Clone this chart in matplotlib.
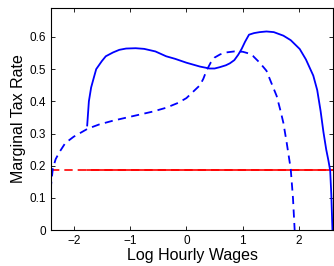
import matplotlib
matplotlib.use("Agg")
import matplotlib.pyplot as plt

plt.rcParams['font.family'] = ['Liberation Sans', 'DejaVu Sans']

solid_x = [-1.76,-1.73,-1.69,-1.64,-1.6,-1.5,-1.43,-1.3,-1.19,-1.07,-0.9,-0.75,-0.55,-0.36,-0.2,0,0.24,0.41,0.5,0.59,0.7,0.77,0.85,0.92,0.98,1.04,1.11,1.2,1.3,1.42,1.55,1.72,1.85,2.01,2.12,2.25,2.32,2.38,2.43,2.48,2.52,2.55,2.57,2.59]
solid_y = [0.325,0.40,0.443,0.475,0.5,0.525,0.54,0.552,0.56,0.564,0.565,0.563,0.555,0.54,0.532,0.52,0.508,0.502,0.502,0.506,0.512,0.518,0.528,0.545,0.563,0.585,0.607,0.612,0.615,0.617,0.615,0.604,0.59,0.5625,0.53,0.48,0.435,0.37,0.305,0.25,0.215,0.185,0.11,0.0]

dash_x = [-2.41,-2.37,-2.32,-2.26,-2.15,-2.0,-1.9,-1.75,-1.55,-1.3,-0.95,-0.6,-0.36,-0.15,0,0.12,0.24,0.3,0.355,0.43,0.5,0.6,0.71,0.85,1.0,1.1,1.18,1.3,1.42,1.5,1.6,1.67,1.72,1.78,1.85,1.89,1.92]
dash_y = [0.125,0.19,0.22,0.24,0.27,0.29,0.30,0.315,0.328,0.34,0.354,0.368,0.38,0.395,0.41,0.43,0.45,0.47,0.495,0.52,0.536,0.546,0.552,0.555,0.554,0.549,0.541,0.52,0.495,0.46,0.417,0.37,0.333,0.27,0.19,0.1,0.0]

flat_rate = 0.1875
flat_dash_x = [-2.4, 2.6]
flat_solid_x = [-1.76, 2.6]

xticks = [-2, -1, 0, 1, 2]
yticks = [0, 0.1, 0.2, 0.3, 0.4, 0.5, 0.6]

fig = plt.figure(figsize=(3.34, 2.66), dpi=100)
ax = fig.add_axes([0.153, 0.135, 0.844, 0.835])

ax.plot(flat_dash_x, [flat_rate]*2, color='red', lw=1.2, ls=(0, (5, 3)))
ax.plot(flat_solid_x, [flat_rate]*2, color='red', lw=1.2)
ax.plot(dash_x, dash_y, color='blue', lw=1.3, ls=(0, (4.5, 3)))
ax.plot(solid_x, solid_y, color='blue', lw=1.3)

ax.set_xlim(-2.4, 2.6)
ax.set_ylim(0, 0.69)
ax.set_xticks(xticks)
ax.set_yticks(yticks)
ax.set_yticklabels(['0', '0.1', '0.2', '0.3', '0.4', '0.5', '0.6'])
ax.tick_params(direction='in', top=True, right=True, labelsize=8.5, length=3, width=0.6)
for s in ax.spines.values():
    s.set_linewidth(0.8)
ax.set_xlabel('Log Hourly Wages', fontsize=11.5, labelpad=1)
ax.set_ylabel('Marginal Tax Rate', fontsize=11.5, labelpad=3)

fig.savefig('out.png', dpi=100)
